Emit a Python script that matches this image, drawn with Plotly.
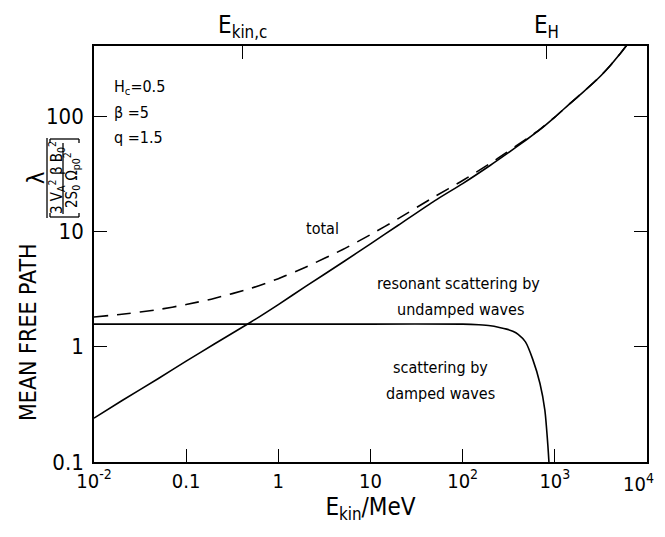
import plotly.graph_objects as go

# ---- data ----
E_res = [0.01, 0.02, 0.05, 0.1, 0.2, 0.5, 1, 2, 5, 10, 20, 50, 100, 200, 300, 500,
         700, 1000, 1500, 2000, 3000, 4000, 5000, 6000]
lam_res = [0.24, 0.34, 0.53, 0.75, 1.05, 1.63, 2.32, 3.35, 5.4, 7.8, 11.3, 18.5, 26, 37.5,
           47, 63, 77, 98, 131, 160, 215, 275, 340, 410]

E_damp = [0.01, 0.1, 1, 10, 100, 150, 200, 250, 300, 350, 400, 480, 575, 690, 780, 840, 870]
lam_damp = [1.57, 1.57, 1.57, 1.57, 1.57, 1.55, 1.52, 1.47, 1.42, 1.36, 1.28, 1.1, 0.78,
            0.48, 0.28, 0.14, 0.09]

E_tot = [0.01, 0.02, 0.05, 0.1, 0.2, 0.5, 1, 2, 5, 10, 20, 50, 100, 200, 300, 500,
         700, 1000, 1500, 2000, 3000, 4000, 5000, 6000]
lam_tot = [1.81, 1.91, 2.1, 2.32, 2.62, 3.2, 3.89, 4.92, 6.97, 9.37, 12.9, 20.1, 27.6,
           39.0, 48.4, 64.0, 77.5, 98, 131, 160, 215, 275, 340, 410]

x_tickvals = [0.01, 0.1, 1, 10, 100, 1000, 10000]
x_ticktext = ["10<sup>-2</sup>", "0.1", "1", "10", "10<sup>2</sup>", "10<sup>3</sup>", "10<sup>4</sup>"]
y_tickvals = [0.1, 1, 10, 100]
y_ticktext = ["0.1", "1", "10", "100"]
top_tickvals = [0.41, 810]
top_ticktext = ["E<sub>kin,c</sub>", "E<sub>H</sub>"]

FONT = "DejaVu Sans Condensed, Liberation Sans Narrow, sans-serif"

# ---- geometry (screen pixels; the page adds an 8px body margin) ----
OFF = 8
W, H = 665 - OFF, 537 - OFF
L, R, T, B = 94, 647, 46, 462
pw, ph = R - L, B - T

def px(x):
    return (x - L) / pw

def py(y):
    return (B - y) / ph

fig = go.Figure()
line = dict(color="black", width=1.6, shape="spline", smoothing=0.6)
fig.add_trace(go.Scatter(x=E_res, y=lam_res, mode="lines", line=line, showlegend=False))
fig.add_trace(go.Scatter(x=E_damp, y=lam_damp, mode="lines", line=line, showlegend=False))
fig.add_trace(go.Scatter(x=E_tot, y=lam_tot, mode="lines",
                         line=dict(color="black", width=1.6, dash="14px,9px", shape="spline", smoothing=0.6),
                         showlegend=False))
# invisible trace for top axis
fig.add_trace(go.Scatter(x=[0.01, 10000], y=[1, 1], xaxis="x2", mode="lines",
                         line=dict(width=0), hoverinfo="skip", showlegend=False))

# last x tick label is drawn as an annotation so it stays inside the page
axis_ticktext = x_ticktext[:-1] + [""]

fig.update_layout(
    width=W, height=H, autosize=False,
    margin=dict(l=L - OFF, r=665 - R, t=T - OFF, b=537 - B, autoexpand=False),
    paper_bgcolor="white", plot_bgcolor="white",
    font=dict(family=FONT, size=20, color="black"),
    xaxis=dict(type="log", range=[-2, 4], tickvals=x_tickvals, ticktext=axis_ticktext,
               ticks="inside", ticklen=13, tickwidth=1.3, tickcolor="black",
               showline=True, linecolor="black", linewidth=1.6, mirror=False, automargin=False,
               ticklabeloverflow="allow",
               showgrid=False, zeroline=False, tickfont=dict(size=20, family=FONT),
               title=dict(text="E<sub>kin</sub>/MeV", font=dict(size=24, family=FONT), standoff=4)),
    xaxis2=dict(type="log", range=[-2, 4], overlaying="x", side="top",
                tickvals=top_tickvals, ticktext=top_ticktext, automargin=False,
                ticks="inside", ticklen=13, tickwidth=1.3, tickcolor="black",
                showline=True, linecolor="black", linewidth=1.6, ticklabelstandoff=2,
                showgrid=False, zeroline=False, tickfont=dict(size=24, family=FONT)),
    yaxis=dict(type="log", range=[-1, 2.608], tickvals=y_tickvals, ticktext=y_ticktext,
               ticks="inside", ticklen=13, tickwidth=1.3, tickcolor="black", automargin=False,
               showline=True, linecolor="black", linewidth=1.6, mirror="ticks",
               ticklabelstandoff=4,
               showgrid=False, zeroline=False, tickfont=dict(size=22, family=FONT)),
)

ann = []
def text(x, y, s, size=16, angle=0, xanchor="center"):
    ann.append(dict(x=px(x), y=py(y), xref="paper", yref="paper", text=s, showarrow=False,
                    textangle=angle, xanchor=xanchor, yanchor="middle",
                    font=dict(size=size, family=FONT, color="black")))

text(112, 87, "H<sub>c</sub>=0.5", xanchor="left")
text(112, 112, "β =5", xanchor="left")
text(112, 137, "q =1.5", xanchor="left")
text(322, 228, "total")
text(458, 283, "resonant scattering by")
text(460, 309, "undamped waves")
text(440, 367, "scattering by")
text(440, 393, "damped waves")
text(28, 332, "MEAN FREE PATH", size=23, angle=-90)
text(36, 178, "λ", size=23, angle=-90)
text(56, 178, "3 V<sub>A</sub><sup>2</sup> β B<sub>0</sub><sup>2</sup>", size=15, angle=-90)
text(71, 180, "2S<sub>0</sub> Ω<sub>p0</sub><sup>2</sup>", size=15, angle=-90)
ann.append(dict(x=4, xref="x", y=py(483), yref="paper", text=x_ticktext[-1], showarrow=False,
                xanchor="right", yanchor="middle", xshift=9,
                font=dict(size=20, family=FONT, color="black")))
fig.update_layout(annotations=ann)

shapes = []
def seg(x0, y0, x1, y1):
    shapes.append(dict(type="line", xref="paper", yref="paper",
                       x0=px(x0), y0=py(y0), x1=px(x1), y1=py(y1),
                       line=dict(color="black", width=1.3)))
# main fraction bar
seg(47, 138, 47, 218)
# inner fraction bar
seg(63, 143, 63, 214)
# brackets
seg(50, 217, 79, 217); seg(50, 217, 50, 213); seg(79, 217, 79, 213)
seg(50, 139, 79, 139); seg(50, 139, 50, 143); seg(79, 139, 79, 143)
fig.update_layout(shapes=shapes)

fig.write_html("out.html")
